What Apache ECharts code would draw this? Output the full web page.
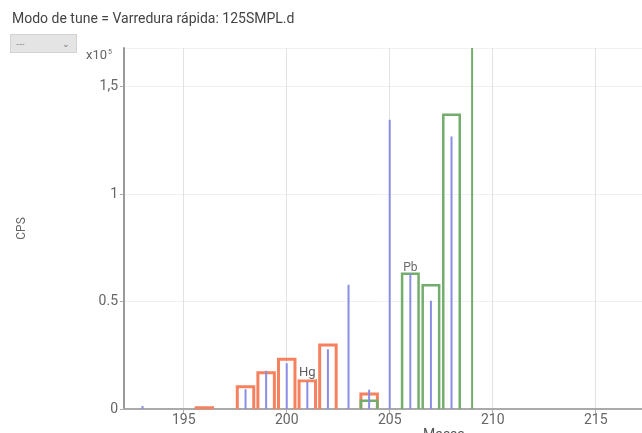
<!DOCTYPE html>
<html>
<head>
<meta charset="utf-8">
<script src="https://cdn.jsdelivr.net/npm/echarts@6/dist/echarts.min.js"></script>
<style>
html,body{margin:0;padding:0;background:#fff;overflow:hidden;}
#chart{width:642px;height:433px;}
#sel{position:absolute;left:10px;top:34px;width:67px;height:19px;background:#e4e4e4;border:1px solid #d2d2d2;box-sizing:border-box;font:9px "Noto Sans",sans-serif;color:#888;padding-left:5px;line-height:17px;}
#sel span{position:absolute;right:6px;top:0px;font-size:9px;color:#777;}
</style>
</head>
<body>
<div id="chart"></div>
<div id="sel">---<span>&#8964;</span></div>
<script>
// Spectrum (blue) lines: mass, CPS (x10^5)
const specMass = [193, 198, 199, 200, 201, 202, 203, 204, 205, 206, 207, 208];
const specCps  = [0.014, 0.092, 0.178, 0.213, 0.127, 0.278, 0.578, 0.09, 1.346, 0.63, 0.504, 1.268];
// Hg isotope pattern (orange boxes)
const hgMass = [196, 198, 199, 200, 201, 202, 204];
const hgCps  = [0.006, 0.104, 0.169, 0.231, 0.132, 0.298, 0.07];
// Pb isotope pattern (green boxes)
const pbMass = [204, 206, 207, 208];
const pbCps  = [0.038, 0.629, 0.576, 1.369];
// Green line at 209 (off-scale)
const biMass = [209];
const biCps  = [2.2];
// Axis ticks
const xTicks = [195, 200, 205, 210, 215, 220];
const yTickLabels = {"0": "0", "0.5": "0.5", "1": "1", "1.5": "1,5"};
const titleText = "Modo de tune = Varredura rápida: 125SMPL.d";

const HALF = 0.4;

function boxRender(color, lw) {
  return function (params, api) {
    const x = api.value(0), y = api.value(1);
    const p0 = api.coord([x - HALF, 0]);
    const p1 = api.coord([x + HALF, y]);
    return {
      type: 'polyline',
      shape: { points: [[p0[0], p0[1]], [p0[0], p1[1]], [p1[0], p1[1]], [p1[0], p0[1]]] },
      style: { stroke: color, lineWidth: lw, fill: null }
    };
  };
}
function lineRender(color, lw) {
  return function (params, api) {
    const x = api.value(0), y = api.value(1);
    const p0 = api.coord([x, 0]);
    const p1 = api.coord([x, y]);
    const cs = params.coordSys;
    const top = Math.max(p1[1], cs.y);
    return {
      type: 'line',
      shape: { x1: p0[0], y1: p0[1], x2: p1[0], y2: top },
      style: { stroke: color, lineWidth: lw }
    };
  };
}

const FONT = 'Roboto, sans-serif';
const chart = echarts.init(document.getElementById('chart'), null, { renderer: 'canvas' });
chart.setOption({
  animation: false,
  backgroundColor: '#fff',
  title: {
    text: titleText, left: 7, top: 7,
    textStyle: { fontSize: 14, fontWeight: 'normal', color: '#444', fontFamily: FONT }
  },
  grid: { left: 124, right: -122, top: 48, bottom: 24, outerBoundsMode: 'none', containLabel: false },
  xAxis: {
    type: 'value', min: 192.1, max: 223.17,
    name: 'Massa', nameLocation: 'middle', nameGap: 19, nameMoveOverlap: false,
    nameTextStyle: { color: '#555', fontSize: 14, fontFamily: FONT, verticalAlign: 'top' },
    axisLine: { show: true, onZero: false, lineStyle: { color: '#aaa', width: 2 } },
    axisTick: { show: true, length: 4, lineStyle: { color: '#aaa' }, customValues: xTicks },
    axisLabel: { color: '#666', fontSize: 14, margin: 4, fontFamily: FONT, customValues: xTicks },
    splitLine: { show: true, lineStyle: { color: '#e2e2e2', width: 1 } }
  },
  yAxis: {
    type: 'value', min: 0, max: 1.68, interval: 0.5,
    name: 'CPS', nameLocation: 'middle', nameGap: 96, nameRotate: 90,
    nameTextStyle: { color: '#666', fontSize: 12, fontFamily: FONT },
    axisLine: { show: true, lineStyle: { color: '#999', width: 2 } },
    axisTick: { show: true, length: 4, lineStyle: { color: '#aaa' } },
    axisLabel: {
      color: '#666', fontSize: 14, margin: 6, fontFamily: FONT,
      showMaxLabel: false,
      formatter: v => yTickLabels[String(v)] !== undefined ? yTickLabels[String(v)] : ''
    },
    splitLine: { show: true, lineStyle: { color: '#f0f0f0', width: 1 } }
  },
  graphic: [{
    type: 'text', left: 86, top: 49,
    style: {
      text: '{a|x10}{b|5}',
      rich: {
        a: { fontSize: 13, fill: '#666', fontFamily: FONT, verticalAlign: 'bottom' },
        b: { fontSize: 7, fill: '#666', fontFamily: FONT, verticalAlign: 'top', padding: [0, 0, 6, 1] }
      }
    }
  }],
  series: [
    {
      type: 'custom', name: 'Hg', renderItem: boxRender('#f6815e', 3),
      data: hgMass.map((m, i) => [m, hgCps[i]]), z: 2
    },
    {
      type: 'custom', name: 'Pb', renderItem: boxRender('#72ad6c', 2.5),
      data: pbMass.map((m, i) => [m, pbCps[i]]), z: 2
    },
    {
      type: 'custom', name: 'Bi', renderItem: lineRender('#72ad6c', 2),
      data: biMass.map((m, i) => [m, biCps[i]]), z: 2
    },
    {
      type: 'custom', name: 'Espectro', renderItem: lineRender('#8a8de4', 2),
      data: specMass.map((m, i) => [m, specCps[i]]), z: 3
    },
    {
      type: 'scatter', symbolSize: 0, silent: true, z: 5,
      data: [
        { value: [hgMass[4], hgCps[4]], label: { show: true, formatter: 'Hg', position: 'top', distance: 1, color: '#333', fontSize: 13, fontFamily: FONT, backgroundColor: 'rgba(255,255,255,0.7)' } },
        { value: [pbMass[1], pbCps[1]], label: { show: true, formatter: 'Pb', position: 'top', distance: 0, color: '#444', fontSize: 12, fontFamily: FONT } }
      ]
    }
  ]
});
</script>
</body>
</html>
